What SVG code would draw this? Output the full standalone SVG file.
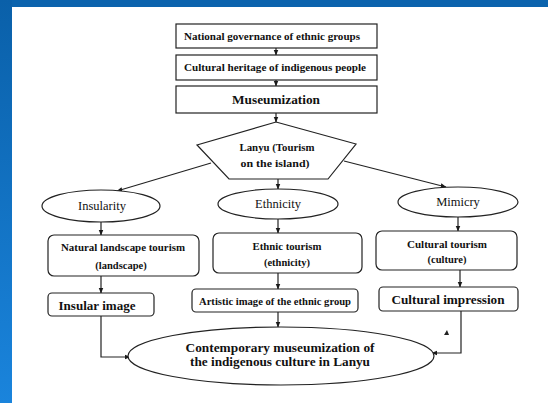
<svg xmlns="http://www.w3.org/2000/svg" width="548" height="403" viewBox="0 0 548 403">
<defs>
<linearGradient id="lb" x1="0" y1="0" x2="0" y2="1">
<stop offset="0" stop-color="#0a60a9"/>
<stop offset="1" stop-color="#1a84dc"/>
</linearGradient>
<marker id="ah" viewBox="0 0 10 10" refX="9" refY="5" markerWidth="6" markerHeight="6" orient="auto" markerUnits="userSpaceOnUse">
<path d="M0,1 L10,5 L0,9 z" fill="#1a1a1a"/>
</marker>
<style>
.b{fill:#fff;stroke:#222;stroke-width:1.2}
.c{fill:none;stroke:#222;stroke-width:1.2;marker-end:url(#ah)}
text{font-family:'Liberation Serif','DejaVu Serif','Times New Roman',serif;fill:#111;text-anchor:middle}
.t{font-weight:bold}
</style>
</defs>
<rect x="0" y="0" width="548" height="403" fill="#fff"/>
<rect x="0" y="0" width="548" height="7" fill="#0b63ad"/>
<rect x="0" y="0" width="12" height="403" fill="url(#lb)"/>

<g id="connectors">
<line class="c" x1="276" y1="48" x2="276" y2="55"/>
<line class="c" x1="276" y1="80" x2="276" y2="86"/>
<line class="c" x1="276" y1="113" x2="276" y2="122"/>
<line class="c" x1="211" y1="163" x2="117" y2="191"/>
<line class="c" x1="278" y1="179" x2="278" y2="189"/>
<line class="c" x1="344" y1="161" x2="446" y2="187"/>
<line class="c" x1="101" y1="222" x2="101" y2="235"/>
<line class="c" x1="278" y1="219" x2="278" y2="233"/>
<line class="c" x1="458" y1="217" x2="458" y2="231"/>
<line class="c" x1="101" y1="276" x2="101" y2="293"/>
<line class="c" x1="278" y1="273" x2="278" y2="289"/>
<line class="c" x1="460" y1="270" x2="460" y2="287"/>
<polyline class="c" points="101,316 101,357 130,357"/>
<line class="c" x1="278" y1="312" x2="278" y2="327"/>
<polyline class="c" points="461,311 461,353 432,353"/>
<path d="M444,335 L447,330 L449,335 z" fill="#222"/>
</g>

<g id="n1"><rect class="b" x="176" y="24" width="201" height="24"/>
<text class="t" font-family="Liberation Serif, DejaVu Serif, serif" x="272" y="40" font-size="10" textLength="176" lengthAdjust="spacingAndGlyphs">National governance of ethnic groups</text></g>

<g id="n2"><rect class="b" x="176" y="55" width="201" height="25"/>
<text class="t" font-family="Liberation Serif, DejaVu Serif, serif" x="275" y="71" font-size="10" textLength="182" lengthAdjust="spacingAndGlyphs">Cultural heritage of indigenous people</text></g>

<g id="n3"><rect class="b" x="176" y="86" width="201" height="27"/>
<text class="t" font-family="Liberation Serif, DejaVu Serif, serif" x="276" y="104" font-size="13" textLength="88" lengthAdjust="spacingAndGlyphs">Museumization</text></g>

<g id="n4"><polygon class="b" points="276,122 356,144 328,179 229,179 197,145"/>
<text class="t" font-family="Liberation Serif, DejaVu Serif, serif" x="277" y="151" font-size="10.5" textLength="75" lengthAdjust="spacingAndGlyphs">Lanyu (Tourism</text>
<text class="t" font-family="Liberation Serif, DejaVu Serif, serif" x="275" y="167" font-size="10.5" textLength="69" lengthAdjust="spacingAndGlyphs">on the island)</text></g>

<g id="n5"><ellipse class="b" cx="101" cy="206" rx="59" ry="16"/>
<text font-family="Liberation Serif, DejaVu Serif, serif" x="102" y="210" font-size="12.5">Insularity</text></g>

<g id="n6"><ellipse class="b" cx="278" cy="204" rx="60" ry="15"/>
<text font-family="Liberation Serif, DejaVu Serif, serif" x="278" y="208" font-size="12.5">Ethnicity</text></g>

<g id="n7"><ellipse class="b" cx="458" cy="202" rx="60" ry="15"/>
<text font-family="Liberation Serif, DejaVu Serif, serif" x="458" y="206" font-size="12.5">Mimicry</text></g>

<g id="n8"><rect class="b" x="48" y="235" width="151" height="41" rx="6"/>
<text class="t" font-family="Liberation Serif, DejaVu Serif, serif" x="123" y="251" font-size="10.5" textLength="124" lengthAdjust="spacingAndGlyphs">Natural landscape tourism</text>
<text class="t" font-family="Liberation Serif, DejaVu Serif, serif" x="121" y="269" font-size="10.5">(landscape)</text></g>

<g id="n9"><rect class="b" x="213" y="233" width="149" height="40" rx="6"/>
<text class="t" font-family="Liberation Serif, DejaVu Serif, serif" x="287" y="250" font-size="10.5" textLength="69" lengthAdjust="spacingAndGlyphs">Ethnic tourism</text>
<text class="t" font-family="Liberation Serif, DejaVu Serif, serif" x="287" y="266" font-size="10.5">(ethnicity)</text></g>

<g id="n10"><rect class="b" x="376" y="231" width="141" height="39" rx="6"/>
<text class="t" font-family="Liberation Serif, DejaVu Serif, serif" x="447" y="248" font-size="10.5" textLength="80" lengthAdjust="spacingAndGlyphs">Cultural tourism</text>
<text class="t" font-family="Liberation Serif, DejaVu Serif, serif" x="447" y="263" font-size="10.5">(culture)</text></g>

<g id="n11"><rect class="b" x="48" y="293" width="106" height="23" rx="4"/>
<text class="t" font-family="Liberation Serif, DejaVu Serif, serif" x="97" y="310" font-size="13" textLength="77" lengthAdjust="spacingAndGlyphs">Insular image</text></g>

<g id="n12"><rect class="b" x="192" y="289" width="166" height="23" rx="4"/>
<text class="t" font-family="Liberation Serif, DejaVu Serif, serif" x="275" y="305" font-size="9.5" textLength="152" lengthAdjust="spacingAndGlyphs">Artistic image of the ethnic group</text></g>

<g id="n13"><rect class="b" x="379" y="287" width="139" height="24" rx="4"/>
<text class="t" font-family="Liberation Serif, DejaVu Serif, serif" x="448" y="304" font-size="13" textLength="113" lengthAdjust="spacingAndGlyphs">Cultural impression</text></g>

<g id="n14"><ellipse class="b" cx="281" cy="356" rx="153" ry="29"/>
<text class="t" font-family="Liberation Serif, DejaVu Serif, serif" x="280" y="352" font-size="13" textLength="189" lengthAdjust="spacingAndGlyphs">Contemporary museumization of</text>
<text class="t" font-family="Liberation Serif, DejaVu Serif, serif" x="280" y="366" font-size="13" textLength="180" lengthAdjust="spacingAndGlyphs">the indigenous culture in Lanyu</text></g>
</svg>
